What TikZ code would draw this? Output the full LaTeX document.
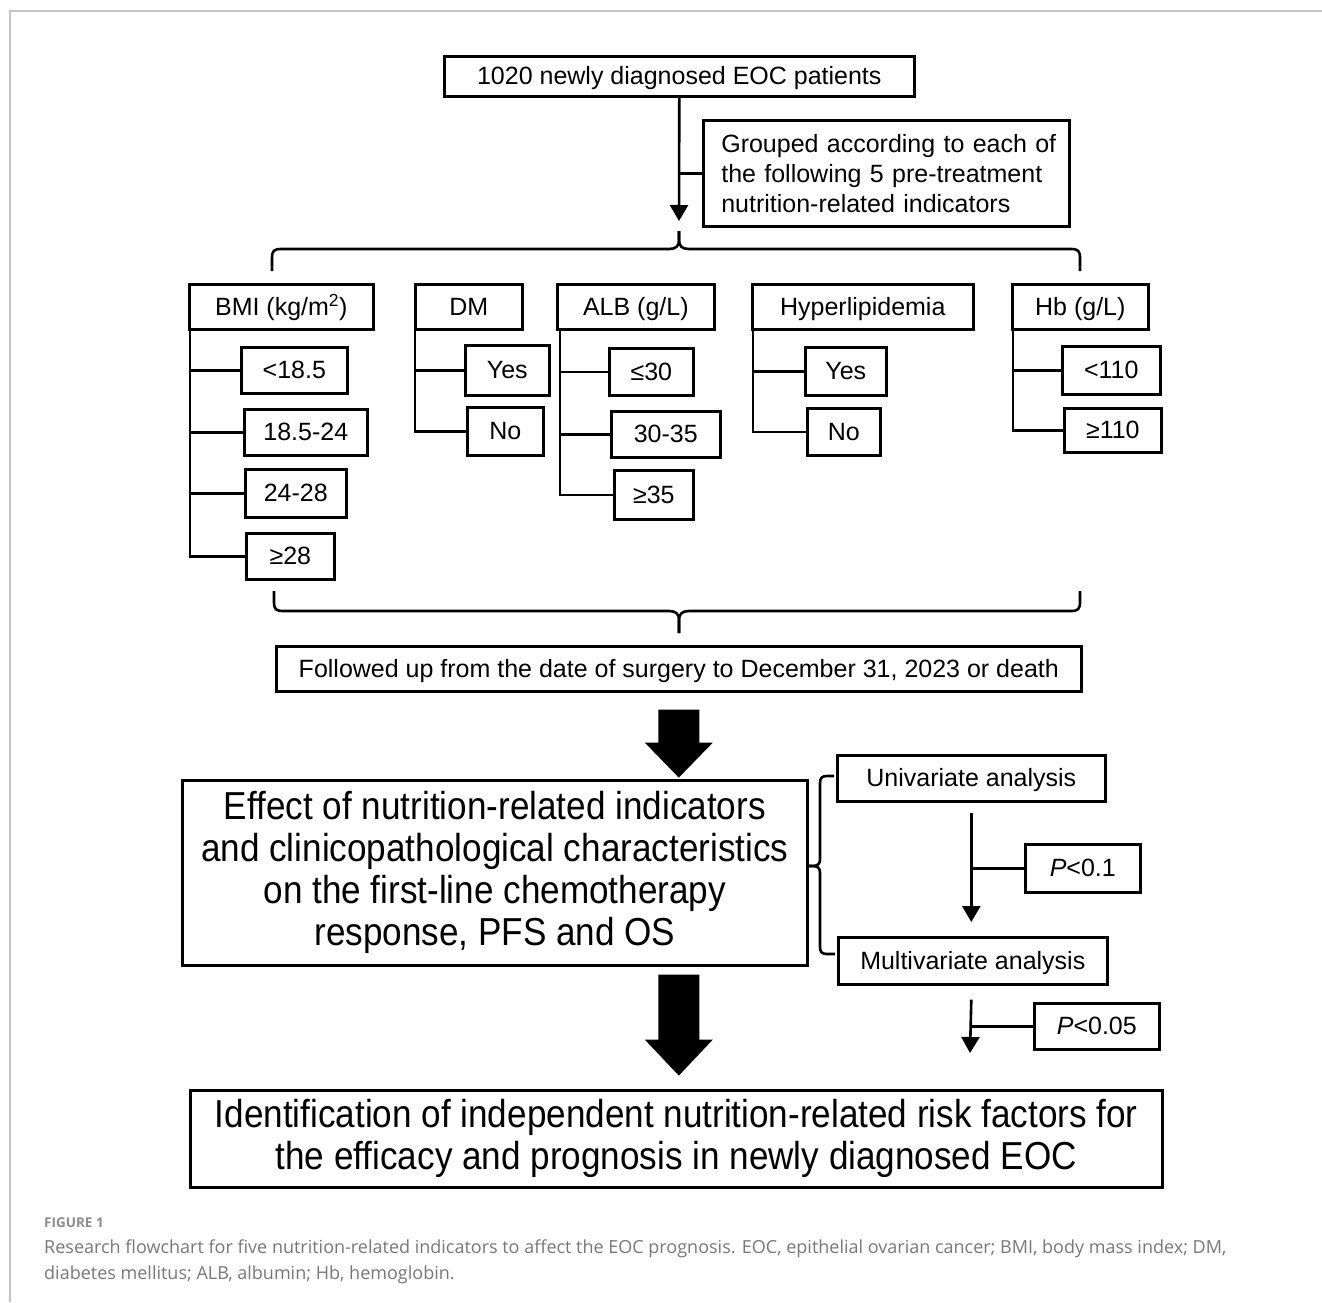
\documentclass[tikz,border=0pt]{standalone}
\usepackage{fontspec}
\setmainfont{Liberation Sans}
\newfontfamily\condfont[FakeStretch=0.9]{Liberation Sans}
\newfontfamily\capfont{Open Sans}
\usetikzlibrary{arrows.meta,calc}
\definecolor{framegray}{HTML}{C4C4C4}
\definecolor{capgray}{HTML}{777777}
\definecolor{figgray}{HTML}{8C8C8C}
\begin{document}
\begin{tikzpicture}[x=1pt,y=-1pt,
  box/.style={draw, line width=2.6pt, inner sep=0pt, anchor=north west, font=\fontsize{25}{30}\selectfont},
  onel/.style={box, text height=20pt, text depth=3pt},
  bigbox/.style={box, font=\condfont\fontsize{39}{42}\selectfont, align=center},
  link/.style={line width=2.6pt},
  arr/.style={line width=2.6pt, -{Triangle[length=16pt,width=18pt]}},
  fat/.style={fill=black, draw=none}
]
\useasboundingbox (0,0) rectangle (1322,1302);
\draw[framegray, line width=2pt] (10,1302) -- (10,11) -- (1322,11);

% top
\node[onel, minimum width=470, minimum height=40] (top) at (443,55) {1020 newly diagnosed EOC patients};
\node[box, minimum width=366, minimum height=106, text width=330, align=left,
      font=\fontsize{25}{30}\selectfont] (grp) at (702,119)
  {\makebox[330pt][s]{Grouped according to each of}\\\makebox[330pt][s]{the following 5 pre-treatment}\\nutrition-related indicators};
\draw[link] (grp.west) -- (grp.west -| top.south);
\coordinate (bt) at (679,231);
\draw[arr] (top.south) -- ([yshift=10pt]bt);

% upper brace
\draw[link] (272,271) -- (272,258) .. controls (272,251) and (274,249) .. (281,249) -- (669,249)
  .. controls (676,249) and (679,246) .. (679,240) -- (bt);
\draw[link] (bt) -- (679,240) .. controls (679,246) and (682,249) .. (689,249) -- (1071,249)
  .. controls (1078,249) and (1080,251) .. (1080,258) -- (1080,271);

% headers
\node[onel, minimum width=184, minimum height=45] (bmi) at (188,283) {BMI (kg/m\textsuperscript{2})};
\node[onel, minimum width=107, minimum height=45] (dm) at (414,283) {DM};
\node[onel, minimum width=157, minimum height=45] (alb) at (556,283) {ALB (g/L)};
\node[onel, minimum width=221, minimum height=45] (hyp) at (751,283) {Hyperlipidemia};
\node[onel, minimum width=136, minimum height=45] (hb) at (1011,283) {Hb (g/L)};

% BMI children
\node[onel, minimum width=106, minimum height=46] (b1) at (240,346) {<18.5};
\node[onel, minimum width=123, minimum height=46] (b2) at (243,408) {18.5-24};
\node[onel, minimum width=101, minimum height=48] (b3) at (244,468) {24-28};
\node[onel, minimum width=88, minimum height=46] (b4) at (245,532) {≥28};
\foreach \c in {b1,b2,b3,b4} \draw[link] ([xshift=2pt]bmi.south west) |- (\c.west);

% DM children
\node[onel, minimum width=84, minimum height=50] (d1) at (464,344) {Yes};
\node[onel, minimum width=76, minimum height=48] (d2) at (466,406) {No};
\foreach \c in {d1,d2} \draw[link] ([xshift=1pt]dm.south west) |- (\c.west);

% ALB children
\node[onel, minimum width=84, minimum height=47] (a1) at (608,347) {≤30};
\node[onel, minimum width=109, minimum height=46] (a2) at (610,410) {30-35};
\node[onel, minimum width=79, minimum height=49] (a3) at (613,469) {≥35};
\foreach \c in {a1,a2,a3} \draw[link] ([xshift=4pt]alb.south west) |- (\c.west);

% Hyperlipidemia children
\node[onel, minimum width=81, minimum height=48] (h1) at (804,346) {Yes};
\node[onel, minimum width=73, minimum height=47] (h2) at (806,407) {No};
\foreach \c in {h1,h2} \draw[link] ([xshift=2pt]hyp.south west) |- (\c.west);

% Hb children
\node[onel, minimum width=98, minimum height=48] (g1) at (1061,345) {<110};
\node[onel, minimum width=97, minimum height=44] (g2) at (1063,407) {≥110};
\foreach \c in {g1,g2} \draw[link] ([xshift=2pt]hb.south west) |- (\c.west);

% lower brace
\coordinate (lb) at (679,633);
\draw[link] (274,591) -- (274,602) .. controls (274,609) and (276,611) .. (283,611) -- (669,611)
  .. controls (676,611) and (679,614) .. (679,620) -- (lb);
\draw[link] (lb) -- (679,620) .. controls (679,614) and (682,611) .. (689,611) -- (1071,611)
  .. controls (1078,611) and (1080,609) .. (1080,602) -- (1080,591);

\node[onel, minimum width=805, minimum height=45] (fol) at (275,645)
  {Followed up from the date of surgery to December 31, 2023 or death};

% effect
\node[bigbox, minimum width=625, minimum height=185] (eff) at (181,779)
  {Effect of nutrition-related indicators\\and clinicopathological characteristics\\on the first-line chemotherapy\\response, PFS and OS};
\fill[fat, shift={(fol.south)}] (-20.5,17) -- (20.5,17) -- (20.5,50) -- (34,50) -- (0,85) -- (-34,50) -- (-20.5,50) -- cycle;

% analysis
\node[onel, minimum width=268, minimum height=46] (uni) at (836,754) {Univariate analysis};
\node[onel, minimum width=269, minimum height=47] (mul) at (837,936) {Multivariate analysis};
\node[onel, minimum width=115, minimum height=48] (p1) at (1024,843) {\textit{P}<0.1};
\node[onel, minimum width=125, minimum height=46] (p2) at (1033,1002) {\textit{P}<0.05};
\draw[arr] ([yshift=-10pt]uni.south) -- ([yshift=14pt]uni.south |- mul.north);
\draw[link] (p1.west) -- (p1.west -| uni.south);
\coordinate (a2end) at (970,1053);
\draw[arr] ([yshift=-14pt]uni.south |- mul.south) -- (a2end);
\draw[link] (p2.west) -- (p2.west -| a2end);

% right brace
\coordinate (rb) at (807,866);
\draw[link] (834,776) -- (827,776) .. controls (822,776) and (820,778) .. (820,783) -- (820,859)
  .. controls (820,864) and (818,866) .. (812,866) -- (rb);
\draw[link] (rb) -- (812,866) .. controls (818,866) and (820,868) .. (820,873) -- (820,947)
  .. controls (820,952) and (822,954) .. (827,954) -- (835,954);

% final
\node[bigbox, minimum width=972, minimum height=97] (fin) at (189,1089)
  {Identification of independent nutrition-related risk factors for\\the efficacy and prognosis in newly diagnosed EOC};
\fill[fat, shift={(fol.south |- eff.south)}] (-20.5,8) -- (20.5,8) -- (20.5,73) -- (34,73) -- (0,109) -- (-34,73) -- (-20.5,73) -- cycle;

% caption
\node[anchor=base west, inner sep=0pt, text=figgray, font=\capfont\bfseries\fontsize{13.5}{16}\selectfont] (figlbl) at (44,1227) {FIGURE 1};
\node[anchor=base west, inner sep=0pt, text=capgray, font=\capfont\fontsize{18}{20}\selectfont] (cap1) at (44,1253)
  {Research flowchart for five nutrition-related indicators to affect the EOC prognosis. EOC, epithelial ovarian cancer; BMI, body mass index; DM,};
\node[anchor=base west, inner sep=0pt, text=capgray, font=\capfont\fontsize{18}{20}\selectfont] (cap2) at (44,1279)
  {diabetes mellitus; ALB, albumin; Hb, hemoglobin.};
\end{tikzpicture}
\end{document}
